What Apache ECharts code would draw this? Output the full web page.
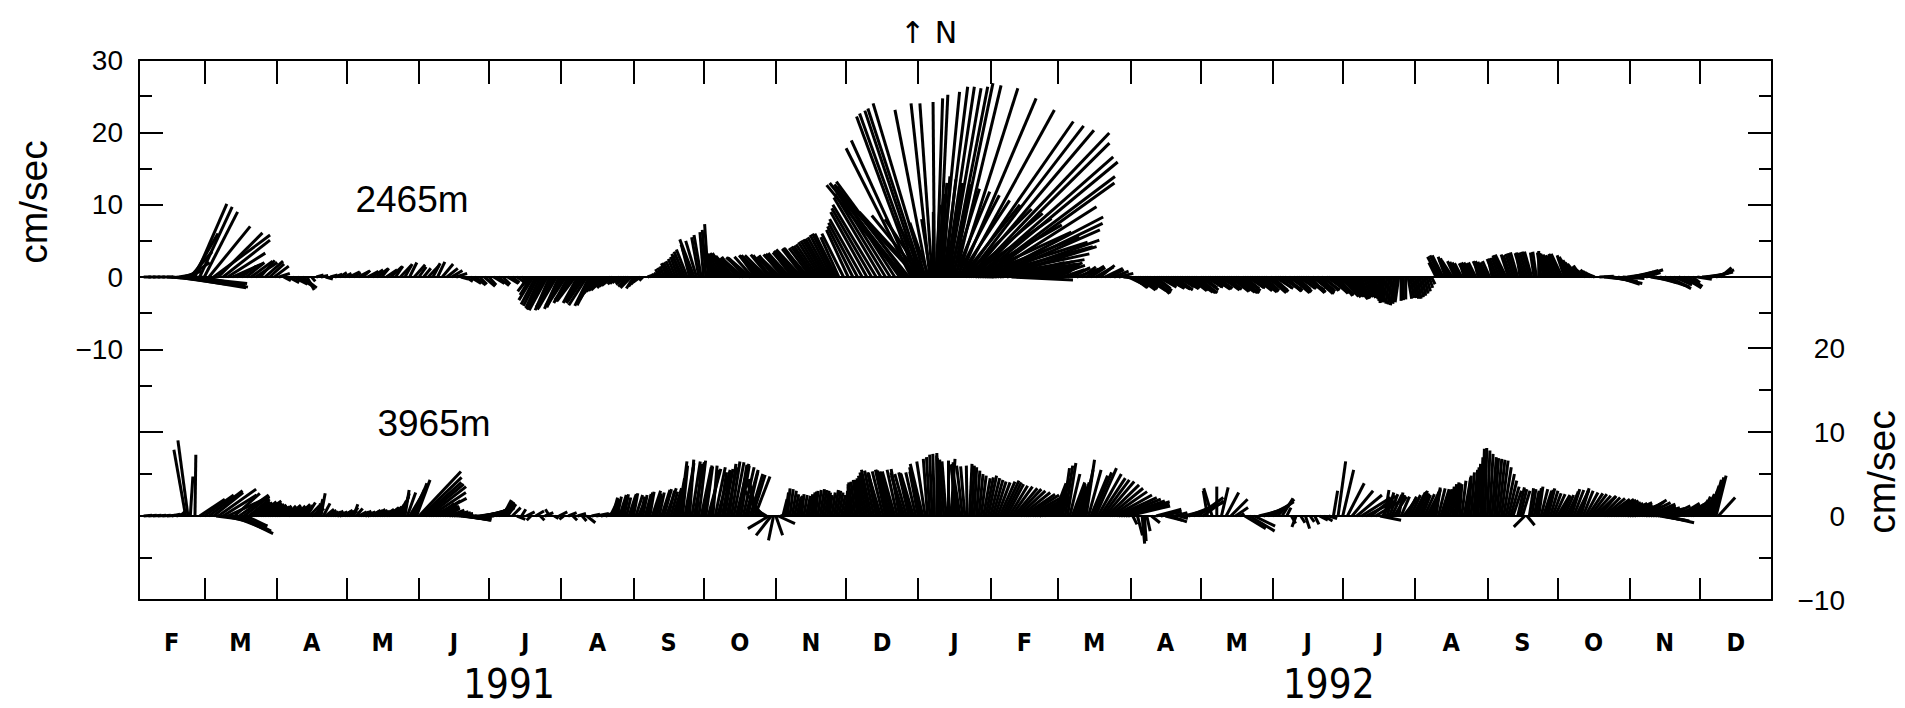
<!DOCTYPE html>
<html><head><meta charset="utf-8">
<script src="https://cdn.jsdelivr.net/npm/echarts@6/dist/echarts.min.js"></script>
<style>html,body{margin:0;padding:0;background:#fff}#c{width:1905px;height:708px}</style>
</head><body><div id="c"></div>
<script>
// Time in days since 1 Feb 1991; frame runs to 1 Jan 1993
const X_MIN = 0, X_MAX = 700;
const MONTH_START = [28,59,89,120,150,181,212,242,273,303,334,365,394,425,455,486,516,547,578,608,639,669];
const MONTH_MID = [14,43.5,74,104.5,135,165.5,196.5,227,257.5,288,318.5,349.5,379.5,409.5,440,470.5,501,531.5,562.5,593,623.5,654,684.5];
const MONTH_LETTERS = ['F','M','A','M','J','J','A','S','O','N','D','J','F','M','A','M','J','J','A','S','O','N','D'];
const YEAR_POS = [158.6, 510];
const YEAR_LABELS = ['1991','1992'];
// upper (2465 m) scale, left axis; lower (3965 m) scale, right axis
const UP_MIN = -44.654, UP_MAX = 30;
const LO_MIN = -10, LO_MAX = 54.286;
const LEFT_LABELS = [30,20,10,0,-10];
const RIGHT_LABELS = [20,10,0,-10];
const SERIES_NAMES = ['2465m','3965m'];

// sticks: [day, u (east, cm/s), v (north, cm/s)]
const S2465 = [
[2,1,0],[4,1,0],[6,1,0],[8,1,0],[10,1.5,0],[12,2,-0.1],[14,5,-0.5],[16,7,-1],[17,2,0.3],[18,9,-1.5],[19,2.5,0.8],[20,8.5,-0.9],
[21,3,2],[22,3,3.5],[23,3.5,6],[24,4.4,10.1],[25,7,-1.4],[26,4.5,9.7],[27,6,-1.2],[28,4.6,9.0],[30,5.7,7.0],[32,7.8,5.8],
[34,6.1,6.1],[36,6.5,5.1],[38,5.2,3.3],[40,4.3,1.9],[42,3.2,1.7],[44,2,1.5],[46,2.5,2],[48,3,2.2],[50,3,2],[52,2,2.3],
[54,2.5,2.2],[56,2,1.8],[58,2,1.5],[60,1.5,0.5],[62,1,-0.5],[64,1.5,-0.8],[66,2,-1],[68,2,-1.2],[70,2,-1.5],[72,1,-1.8],
[74,0.5,-0.6],[76,1,0.3],[78,1,0.2],[80,1,-0.3],[82,1,0.3],[84,1,0.4],[86,1,0.6],[88,1,0.5],[90,1.5,0.7],[92,1,0.6],
[94,1.5,0.8],[96,1,0.9],[98,1.5,0.8],[100,1.5,1.0],[102,1.5,1.1],[104,1,1.2],[106,1.5,1.0],[108,1.5,1.4],[110,1,1.5],
[112,1.5,1.6],[114,1,1.8],[116,1,2.0],[118,1.5,1.7],[120,1,1.4],[122,1,1.2],[124,1.5,1.6],[126,1,1.9],[128,1,2.1],
[130,1.5,1.8],[132,1.5,1.2],[134,1.5,0.9],[136,1.5,0.5],[138,1,-0.3],[140,1,-0.6],[142,1.5,-0.9],[144,1.5,-1.1],
[146,1,-1.0],[148,1.5,-1.3],[150,1,-1.1],[152,1.5,-0.9],[154,1.5,-1.2],[156,1,-1.0],[158,1.5,-0.9],[160,1,-0.8],
[162,1.5,-1.0],[164,1,-0.7],[166,-0.5,-1.2],[167,-1.5,-2.0],[168,-1.5,-2.5],[169,-2,-3.2],[170,-2,-3.8],[171,-2,-4.0],
[172,-2,-4.3],[173,-2,-4.4],[174,-2.5,-4.5],[175,-2.5,-4.6],[176,-2,-4.6],[177,-2,-4.5],[178,-2.5,-4.2],[179,-2.5,-4.3],
[180,-2,-4.4],[181,-2,-4.2],[182,-2.5,-4.0],[183,-2.5,-3.8],[184,-2,-3.6],[185,-2,-3.4],[186,-2.5,-3.2],[187,-2.5,-3.3],
[188,-2,-3.6],[189,-2,-3.5],[190,-2,-3.3],[191,-2.5,-3.6],[192,-2.5,-3.9],[193,-2,-4.0],[194,-2,-3.9],[195,-2,-3.2],
[196,-2,-2.5],[197,-2,-2.2],[198,-2,-2.0],[199,-2,-1.9],[200,-2,-1.8],[201,-1.5,-1.5],[202,-1.5,-1.3],[203,-1.5,-1.2],
[204,-1,-1.0],[205,-1,-0.9],[206,-1,-0.8],[207,-1,-0.7],[208,-1,-0.7],[209,-1.5,-1.0],[210,-1.5,-1.3],[211,-1.5,-1.5],
[212,-1,-1.6],[213,-1,-1.3],[214,-1,-1.0],[215,-1,-0.7],[216,-0.5,-0.5],
[218,0.5,0.2],[219,0.5,0.4],[220,0.5,0.6],[221,0.5,0.7],[222,0.5,0.9],[223,-0.5,1.1],[224,-0.5,1.3],[225,-0.5,1.5],
[226,-0.5,1.8],[227,-1,1.9],[228,-1,2.0],[229,-1,2.2],[230,-1,2.5],[231,-1,2.8],[232,-1,3.0],[233,-1.5,3.2],[234,-1.5,3.5],
[235,-1.5,3.8],[236,-1,4.0],[237,-1.5,4.5],[238,-2,5.2],[239,-1.5,5.0],[240,-1,5.5],[241,-1,5.8],[242,-0.5,6.2],
[243,-0.5,6.5],[244,-0.5,7.3],[245,-1,4.0],[246,-1,3.5],[247,-1.5,3.2],[248,-1.5,3.0],[249,-2,3.1],[250,-2,3.2],
[251,-2,3.3],[252,-2,3.3],[253,-2.5,3.1],[254,-2.5,3.0],[255,-2.5,2.9],[256,-2,2.8],[257,-2.5,2.6],[258,-3,2.5],
[259,-3,2.6],[260,-2.5,2.7],[261,-3,2.7],[262,-3,2.6],[263,-2.5,2.8],[264,-2,2.9],[265,-2.5,3.0],[266,-2.5,3.0],
[267,-3,2.9],[268,-3,2.8],[269,-3,3.0],[270,-2.5,3.1],[271,-2.5,3.0],[272,-2,3.0],[273,-2.5,2.8],[274,-3,2.7],
[275,-3,2.9],[276,-2.5,3.0],[277,-3,3.1],[278,-3,3.2],[279,-3,3.3],[280,-2.5,3.3],[281,-3,3.4],[282,-3,3.5],
[283,-3.5,3.6],[284,-3.5,3.8],[285,-3,3.9],[286,-3,4.0],[287,-3.5,4.0],[288,-3,4.0],[289,-3,4.2],[290,-3,4.3],
[291,-3,4.5],[292,-3,4.8],[293,-3,5.0],[294,-3,5.2],[295,-3,5.3],[296,-3,5.5],[297,-3,5.8],[298,-3,6.0],[299,-3,6.0],
[300,-2.5,5.5],[302,-3,6],[304,-3,6.5],[306,-3.5,7],[308,-4,7.5],[310,-4.5,8],[312,-5,9],[314,-5.5,9.5],
[316,-6,10],[318,-6.5,11],[320,-7,11.5],[322,-7.5,12],[324,-8,12.5],[326,-9,12.8],
[327,-10.4,12.7],[328,-10.3,13.0],[329,-9.7,13.2],[330,-9.6,12.0],[331,-9.0,17.8],[332,-8.6,18.9],[333,-8.2,22.2],
[333.5,-9.3,10],[334,-8.1,22.6],[334.5,-8.3,9],[335,-7.7,23.0],[335.5,-6.9,8.5],[336,-7.6,23.3],[336.5,-5.4,8],
[337,-7.2,24.0],[337.5,-4.0,7.5],[338,-4.5,23.1],[338.5,-2.6,7.5],[339,-2.6,24.0],[339.5,-1.3,8],[340,-1.7,24.0],
[340.5,0,9],[341,-0.2,24.2],[341.5,0.6,10],[342,0.8,24.7],[342.5,0.8,11.5],[343,1.2,25.2],[343.5,0.9,13],
[344,2.5,25.6],[344.5,1.0,13.9],[345,3.3,26.3],[345.5,1.5,13.5],[346,3.9,26.3],[346.5,2.1,13.0],[347,4.5,26.1],
[347.5,3.0,12.8],[348,5.1,26.3],[348.5,3.8,12.2],[349,5.5,26.8],[349.5,4.9,11.8],[350,6.3,26.5],[350.5,5.9,11.3],
[351,8.3,26.1],[351.5,7.0,10.6],[352,10.5,24.7],[352.5,8.1,10.0],[353,12.7,23.1],[353.5,9.4,9.4],[354,15.0,21.5],
[354.5,10.6,8.8],[355,16.1,20.9],[355.5,11.5,8.1],[356,17.2,20.3],[356.5,12.6,7.2],[357,19.0,19.9],[357.5,13.6,6.2],
[358,18.7,18.5],[358.5,14.4,5.5],[359,18.9,16.6],[359.5,15.2,4.8],[360,19.2,15.9],[360.5,15.6,4.2],[361,18.5,13.9],
[361.5,14.8,3.2],[362,18.1,13.0],[362.5,13.8,2.4],[363,15.3,9.7],[363.5,12.8,1.8],[364,15.9,8.3],[364.5,11.8,1.2],
[365,15.5,7.4],[365.5,11,0.8],[366,14.8,6.5],[367,14.4,5.1],[368,13.7,4.2],[369,10.1,2.1],
[370,9,3.0],[372,8,2.0],[374,8.5,-0.4],[376,7,1.5],[378,7,1.0],[380,6,0.6],[382,6,1.2],[384,5,1.5],[386,5,1.8],[388,4,1.2],
[390,5,1.6],[392,4,2.0],[394,3,1.5],[396,3,1.0],[398,3,1.2],[400,2.5,1.3],[402,3,1.1],[404,2,1.4],[406,2.5,1.5],[408,2,1.3],
[410,2.5,1.4],[412,2,1.6],[414,2.5,1.2],[416,2,1.0],[418,2,0.8],[420,2,0.5],[422,3,-0.3],[424,2.5,-1.2],
[425,2.5,-1.4],[426,2,-1.5],[427,3,-1.7],[428,2.5,-1.8],[429,2.5,-1.6],[430,2,-1.5],[431,3,-1.9],[432,3,-2.0],
[433,3,-2.2],[434,2.5,-2.3],[435,2.5,-1.9],[436,2,-1.6],[437,2.5,-1.4],[438,2,-1.2],[439,2.5,-1.3],[440,2.5,-1.5],
[441,3,-1.6],[442,2,-1.6],[443,2.5,-1.7],[444,2.5,-1.8],[445,3,-1.6],[446,2,-1.4],[447,2.5,-1.5],[448,2,-1.6],
[449,3,-1.8],[450,2.5,-1.9],[451,3,-2.1],[452,3,-2.2],[453,3,-2.2],[454,2.5,-2.2],[455,2.5,-1.8],[456,2,-1.5],
[457,2.5,-1.4],[458,2,-1.4],[459,3,-1.6],[460,2.5,-1.7],[461,2.5,-1.6],[462,2,-1.5],[463,3,-1.7],[464,2.5,-1.8],
[465,2.5,-1.7],[466,2,-1.6],[467,3,-1.9],[468,2.5,-2.0],[469,3,-2.1],[470,3,-2.2],[471,3,-2.2],[472,2.5,-2.2],
[473,2.5,-1.9],[474,2,-1.6],[475,2.5,-1.5],[476,2,-1.5],[477,3,-1.7],[478,2.5,-1.9],[479,3,-2.0],[480,2.5,-2.1],
[481,2.5,-1.9],[482,2,-1.7],[483,3,-2.0],[484,2.5,-2.2],[485,2.5,-2.0],[486,2,-1.8],[487,2.5,-1.6],[488,2,-1.5],
[489,3,-1.7],[490,2.5,-1.8],[491,2.5,-1.9],[492,2,-2.0],[493,3,-2.1],[494,2.5,-2.2],[495,2.5,-2.0],[496,2,-1.7],
[497,2.5,-1.6],[498,2,-1.6],[499,3,-1.8],[500,2.5,-2.0],[501,2.5,-2.1],[502,2,-2.2],[503,3,-2.3],[504,2.5,-2.3],
[505,2.5,-2.0],[506,2,-1.8],[507,2.5,-1.8],[508,2,-1.9],[509,3,-2.0],[510,2.5,-2.1],[511,2.5,-2.2],[512,2,-2.3],
[513,2.5,-2.5],[514,2,-2.6],[515,2.5,-2.7],[516,2.5,-2.8],[517,2.5,-2.7],[518,2,-2.5],[519,2,-2.7],[520,2,-2.9],
[521,2,-3.0],[522,1.5,-3.1],[523,1.5,-3.0],[524,1,-2.9],[525,1,-2.8],[526,1,-2.8],[527,1,-2.9],[528,1,-3.0],
[529,1,-3.2],[530,0.5,-3.3],[531,0.5,-3.5],[532,0,-3.6],[533,0,-3.5],[534,-0.5,-3.4],[535,-0.5,-3.5],[536,-0.5,-3.7],
[537,-0.5,-3.8],[538,-0.5,-3.9],[539,-0.5,-3.7],[540,-0.5,-3.5],[541,0,-3.3],[542,0,-3.2],[543,0,-3.1],[544,0.5,-3.0],
[545,0.5,-2.9],[546,0.5,-2.9],[547,0.5,-3.0],[548,0.5,-3.0],[549,0.5,-2.8],[550,0.5,-2.6],[551,0.5,-2.3],[552,0.5,-2.0],
[553,0.5,-1.5],[554,0.5,-1.0],[556,-1,2.0],[557,-1.5,2.8],[558,-1.5,3.0],[559,-1.5,3.0],[560,-1,2.8],[561,-1,2.6],
[562,-1.5,2.4],[563,-1.5,2.3],[564,-1,2.2],[565,-1,2.1],[566,-1,2.0],[567,-1,1.9],[568,-0.5,1.8],[569,-1,1.9],
[570,-1,2.0],[571,-1,2.0],[572,-1,1.9],[573,-1,2.0],[574,-0.5,2.1],[575,-1,2.2],[576,-1,2.2],[577,-1,2.1],[578,-1,2.0],
[579,-1,2.2],[580,-0.5,2.4],[581,-1,2.5],[582,-1,2.6],[583,-1,2.7],[584,-1,2.8],[585,-1.5,3.0],[586,-1.5,3.1],
[587,-1,3.1],[588,-1,3.0],[589,-1,3.2],[590,-1,3.3],[591,-1,3.4],[592,-0.5,3.4],[593,-1,3.3],[594,-1,3.3],[595,-1,3.4],
[596,-1,3.5],[597,-1,3.5],[598,-0.5,3.4],[599,-0.5,3.5],[600,0,3.6],[601,-0.5,3.4],[602,-0.5,3.3],[603,-1,3.3],
[604,-1,3.2],[605,-1,3.1],[606,-1,3.0],[607,-1,3.0],[608,-1,3.1],[609,-1.5,3.2],[610,-1.5,3.2],[611,-1,3.0],[612,-1,2.8],
[613,-1.5,2.6],[614,-1.5,2.5],[615,-1.5,2.3],[616,-1.5,2.0],[617,-1.5,1.8],[618,-1,1.6],[619,-1.5,1.4],[620,-1.5,1.2],
[621,-1,1.0],[622,-1,0.8],[623,-1,0.6],[624,-1,0.4],[626,2,0.1],[628,3,-0.3],[630,4,-0.6],[632,4,-0.9],[634,3,-1.0],
[636,3,-0.2],[638,3,0.4],[640,3,0.7],[642,3,0.9],[644,3,1.0],[646,2,0.6],[648,3,-0.5],[650,3,-0.8],[652,3.5,-1.2],
[654,3.5,-1.4],[656,3,-1.6],[658,2.5,-1.1],[660,3,-1.2],[662,2.5,-1.5],[664,2,-1.3],[666,1,-0.8],[668,2,-0.3],
[670,2.5,0.2],[672,3,0.5],[674,3,0.7],[676,2.5,1.0],[678,1.5,1.3]
];

const S3965 = [
[2,1,0.1],[4,1,0.1],[6,1,0.1],[8,1,0.1],[10,1,0.1],[12,1,0.1],[14,1,0.2],[16,1,0.3],[18,0.5,0.6],[20,-1.4,7.9],[21,-1.2,9.0],
[22,0.3,4.7],[24,0.1,7.3],[26,3,2.0],[28,3.5,2.5],[30,4,3.0],[32,3.5,2.8],[33,4,-0.5],[34,4.5,3.2],[36,4,2.5],[37,5,-1.2],
[38,5,2.3],[40,4.5,-1.8],[41,3,2.7],[42,4.3,-2.1],[43,3.5,2.5],[44,3.5,-1.8],[45,3,2.3],[46,2.5,-1.2],[47,2.5,2.0],[48,2,1.8],
[49,2,1.7],[50,2,1.6],[51,2.2,1.7],[52,2.5,1.8],[53,2.2,1.6],[54,2,1.5],[55,2,1.4],[56,2,1.3],[57,1.8,1.2],[58,1.5,1.0],
[59,1.5,1.1],[60,1.5,1.2],[61,1.2,1.1],[62,1,1.0],[63,1.2,1.2],[64,1.5,1.3],[65,1.2,1.2],[66,1,1.1],[67,1.2,1.2],[68,1.5,1.4],
[69,1.2,1.2],[70,1,1.0],[71,1,1.3],[72,1,1.6],[73,1.2,1.2],[74,1.5,0.9],[75,1,1.2],[76,0.5,1.5],[77,0.5,2.0],[78,0.5,2.7],
[79,0.8,1.5],[80,1,0.8],[81,1,0.7],[82,1,0.5],[83,1,0.5],[84,1,0.6],[85,1.2,0.5],[86,1.5,0.4],[87,1.2,0.6],[88,1,0.7],
[89,1,0.6],[90,1,0.6],[91,0.8,1.0],[92,0.5,1.4],[93,0.8,0.9],[94,1,0.5],[95,1,0.5],[96,1,0.6],[97,1.2,0.5],[98,1.5,0.5],
[99,1.2,0.6],[100,1,0.7],[101,1,0.7],[102,1,0.8],[103,1,0.7],[104,1,0.6],[105,1.2,0.8],[106,1.5,0.9],[107,1.2,1.0],
[108,1,1.0],[109,1,1.1],[110,1,1.3],[111,1,1.8],[112,1,2.3],[113,0.8,2.7],[114,0.5,3.1],[115,1,2.8],[116,1.5,2.5],
[117,1.5,3.2],[118,1.5,3.9],[119,1.6,4.3],[120,5,5.3],[121,4.8,4.6],[122,4.5,4.0],[123,4.5,3.8],[124,4.5,3.5],[125,4.2,2.8],
[126,4,2.1],[127,3,1.8],[128,2,1.5],[129,2,1.3],[130,2,1.2],[131,1.8,1.0],[132,1.5,0.9],[133,1.8,0.7],[134,2,0.5],
[135,2,0.4],[136,2,0.3],[137,2.2,0],[138,2.5,-0.3],[139,2.8,-0.4],[140,3,-0.5],[141,2.8,-0.5],[142,2.5,-0.4],[143,2.2,-0.3],
[144,2,-0.2],[145,2,0],[146,2,0.3],[147,2.2,0.4],[148,2.5,0.6],[149,2.8,0.8],[150,3,0.9],[151,2.8,1.0],[152,2.5,1.2],
[153,2.2,1.3],[154,2,1.5],[155,1.5,1.7],[156,1,1.9],[157,1,1.7],[158,1,1.4],[160,1,1.0],
[162,1,-0.4],[164,0.5,0.8],[166,1,0.5],[168,-0.5,-0.5],[170,1,0.6],[172,0.5,-0.5],[174,1,0.4],[176,-0.5,0.8],[178,0.5,-0.3],
[180,1,0.5],[182,-0.5,-0.4],[184,1,0.4],[186,0.5,-0.5],[188,1,0.3],[190,0.5,-0.6],[192,1,-0.8],[194,1,0.2],[196,1.5,0.3],
[198,2,0.4],[200,2,0.5],[202,1,2.0],[203,0.6,2.2],[204,0.5,2.0],[205,0.5,2.3],[206,0.8,2.5],[207,0.7,2.4],[208,0.5,2.6],
[209,0.5,2.2],[210,0.8,2.4],[211,0.6,2.6],[212,0.5,2.7],[213,0.8,2.5],[214,1,2.2],[215,0.5,2.3],[216,0.5,2.5],[217,0.7,2.6],
[218,0.6,2.8],[219,0.5,2.9],[220,1,3.0],[221,0.8,2.7],[222,0.5,2.4],[223,0.6,2.8],[224,1,3.1],[225,0.9,3.2],[226,1.2,3.3],
[227,0.7,3.0],[228,0.8,2.9],[229,1,3.3],[230,1,3.5],[231,0.8,4.5],[232,0.8,6.5],[233,0.6,6.0],[234,1,5.8],[235,0.8,6.3],
[236,0.5,6.7],[237,1,6.5],[238,1.2,6.4],[239,0.6,6.2],[240,0.8,6.6],[241,1.2,5.8],[242,1,6.0],[243,0.8,5.9],[244,1.5,5.6],
[245,1,5.5],[246,0.5,6.0],[247,1.2,5.8],[248,1.5,5.5],[249,0.8,5.2],[250,1,5.3],[251,1,5.6],[252,1.2,5.8],[253,0.8,6.2],
[254,1,6.5],[255,1.2,6.4],[256,1.5,6.2],[257,1,6.1],[258,1,6.0],[259,1.3,5.8],[260,1.5,5.5],[261,1.2,5.3],[262,1.5,5.0],
[263,1.5,4.9],[264,1.8,4.7],[265,-1,4.4],[266,-1.5,4.0],[267,-2,3.0],
[268,-1.5,1.5],[269,-1,0.6],[270,-2.5,-1.5],[271,-1.8,-2.3],[272,-0.6,-2.9],[273,0.8,-2.3],[274,2,-0.9],[275,1,0.2],
[276,0.5,2.0],[277,0.4,2.8],[278,0.3,3.3],[279,0.4,3.2],[280,0.5,3.0],[281,0.5,2.6],[282,0.5,2.3],[283,0.4,2.4],
[284,0.3,2.6],[285,0.4,2.5],[286,0.5,2.4],[287,0.5,2.6],[288,0.5,2.8],[289,0.4,2.9],[290,0.3,3.0],[291,0.4,3.1],
[292,0.5,3.2],[293,0.5,3.1],[294,0.5,3.0],[295,0.4,2.8],[296,0.3,2.5],[297,0.4,2.8],[298,0.5,3.1],[299,0.5,3.0],
[300,0.5,2.8],[301,0.5,2.5],[302,0.5,2.3],[303,0.2,3.0],[304,0,3.5],[305,-0.3,3.8],[306,-0.5,4.0],[307,-0.5,4.1],
[308,-0.5,4.3],[309,-0.6,4.3],[310,-0.8,4.2],[311,-0.9,4.5],[312,-1,4.8],[313,-1.1,5.2],[314,-1.2,5.5],[315,-1.1,5.4],
[316,-1,5.2],[317,-1.2,5.1],[318,-1.5,5.0],[319,-1.3,5.3],[320,-1.2,5.5],[321,-1.4,5.5],[322,-1.5,5.4],[323,-1.5,5.3],
[324,-1.5,5.3],[325,-1.2,5.5],[326,-1,5.6],[327,-1.3,5.2],[328,-1.5,4.8],[329,-1.4,5.0],[330,-1.2,5.2],[331,-1.3,5.1],
[332,-1.5,5.0],[333,-1.2,5.2],[334,-1,5.3],[335,-1.3,5.8],[336,-1.5,6.2],[337,-1,6.5],[338,-0.5,6.8],[339,-0.4,7.0],
[340,-0.3,7.3],[341,-0.2,7.4],[342,0,7.5],[343,-0.3,7.2],[344,-0.5,6.9],[345,-0.5,6.7],[346,-0.5,6.5],[347,0,6.6],
[348,0.5,6.8],[349,0,6.4],[350,-0.5,6.0],[351,-0.8,6.1],[352,-1,6.2],[353,-0.7,6.0],[354,-0.5,5.9],[355,-0.1,6.0],
[356,0.3,6.2],[357,0.3,6.0],[358,0.3,5.8],[359,0.4,5.4],[360,0.5,5.0],[361,0.6,4.8],[362,0.8,4.5],[363,0.9,4.6],
[364,1,4.8],[365,1.1,4.5],[366,1.2,4.3],[367,1.3,4.1],[368,1.5,4.0],[369,1.8,4.1],[370,2,4.2],[371,2,4.0],[372,2,3.8],
[373,2.2,3.6],[374,2.5,3.5],[375,2.8,3.3],[376,3,3.2],[377,3.2,3.0],[378,3.5,2.8],[379,3.8,2.6],[380,4,2.5],[381,4.2,2.3],
[382,4.5,2.2],[383,4.2,2.0],[384,4,1.9],[385,3.8,1.7],[386,3.5,1.5],[387,3.2,1.8],[388,3,2.0],[389,2.5,2.4],[390,2,2.8],
[391,1.8,3.3],[392,1.5,3.9],[393,1.2,3.5],[394,1,3.2],[395,1,4.5],[396,0.8,5.7],[397,0.9,6.0],[398,1.0,6.3],[399,1.2,5.0],
[400,1.5,4.0],[401,1.3,3.8],[402,1.2,3.5],[403,1.2,4.0],[404,1.2,4.5],[405,1.1,5.5],[406,1.0,6.7],[407,1.5,5.5],[408,2,4.8],
[409,2.2,5.2],[410,2.5,5.7],[411,2.8,5.0],[412,3,4.5],[413,3.2,4.3],[414,3.5,4.1],[415,3.8,3.7],[416,4,3.3],[417,4.2,2.9],
[418,4.5,2.5],[419,4.8,2.2],[420,5,2.0],[421,5.2,1.8],[422,5.5,1.7],[423,5.2,1.4],[424,5,1.2],[426,0.5,-1.0],
[428,0.6,-2.3],[430,0.3,-3.3],[431,0.2,-3.0],[432,0.4,-1.8],[434,1,-0.8],[436,3,0.8],[438,2.5,0.5],[440,2,-0.5],
[442,2,-0.7],[444,1.5,0.4],[446,1,-0.3],[448,2,0.5],[450,3,1.2],[452,3.5,1.6],[454,3,2.2],[456,2.5,1.8],[458,-0.5,3.0],
[460,-1,3.3],[462,0,3.5],[464,0.8,3.4],[466,1.5,2.8],[468,2,2.0],[470,1.5,1.0],[472,0.5,0.3],[474,2.5,-1.5],[476,3,-1.8],
[478,2.5,-1.2],[480,2,0.5],[482,2.5,0.9],[484,2.5,1.3],[486,2.5,1.7],[488,2,2.0],[490,1.3,2.1],[492,0.5,1.0],[494,0.5,-0.9],
[496,-0.5,-1.3],[498,0.5,-0.8],[500,0.5,-1.5],[502,0.5,-0.7],[504,0.5,-1.0],[506,1,-0.5],[508,1,-0.6],[510,1,-0.3],
[512,0.5,3.0],[514,0.9,6.5],[516,1.3,5.5],[518,2,3.9],[520,2.5,3.0],[522,3,2.5],[524,3.5,2.2],[526,3.5,1.8],[528,3,2.4],
[530,3,1.8],[532,2.5,-0.5],[533,1,1.5],[534,0.5,3.1],[535,0.8,2.8],[536,1,2.6],[537,1.2,2.5],[538,1.5,2.3],[539,1,2.5],
[540,0.5,2.8],[541,1,2.3],[542,1.5,1.9],[543,1.2,2.1],[544,1,2.3],[545,1.2,2.5],[546,1.5,2.8],[547,1.4,2.9],[548,1.2,3.0],
[549,1.1,2.7],[550,1,2.5],[551,1.2,2.6],[552,1.5,2.8],[553,1.2,2.9],[554,1,3.0],[555,0.8,3.2],[556,0.5,3.4],[557,0.8,3.3],
[558,1,3.2],[559,0.8,3.1],[560,0.5,3.0],[561,0.5,3.2],[562,0.5,3.5],[563,0.5,3.8],[564,0.5,4.0],[565,0.4,3.9],[566,0.3,3.8],
[567,0.5,4.2],[568,0.8,4.5],[569,0.5,4.6],[570,0.3,4.8],[571,0.4,5.2],[572,0.5,5.5],[573,0.4,5.8],[574,0.3,6.2],
[575,0.3,7.0],[576,0.2,8.0],[577,0.2,8.1],[578,0.3,7.8],[579,0.4,7.4],[580,0.5,7.0],[581,0.5,6.9],[582,0.6,6.8],
[583,0.7,6.7],[584,0.8,6.6],[585,0.9,5.8],[586,1.0,5.0],[587,1,4.2],[588,1,3.5],[589,1,3.0],[591,0.8,3.4],[592,0.8,3.2],
[593,0.9,3.0],[594,-1.3,-1.3],[595,0.9,-1.1],[596,0.5,3.3],[597,0.5,3.2],[598,0.6,3.0],[599,0.6,3.3],[600,0.5,3.5],
[601,0.8,3.2],[602,1,3.0],[603,0.9,3.1],[604,0.8,3.3],[605,0.9,3.0],[606,1,2.7],[607,1.2,2.6],[608,1.5,2.5],[609,1.2,2.4],
[610,1,2.4],[611,1.1,2.5],[612,1.3,2.6],[613,1.1,2.9],[614,1,3.2],[615,1.2,3.1],[616,1.5,3.0],[617,1.2,3.1],[618,1,3.3],
[619,1.2,3.0],[620,1.5,2.8],[621,1.8,2.7],[622,2,2.6],[623,2.2,2.4],[624,2.5,2.3],[625,2.2,2.3],[626,2,2.4],[627,2.2,2.2],
[628,2.5,2.1],[629,2.8,2.0],[630,3,2.0],[631,3,1.9],[632,3,1.8],[633,3,1.6],[634,3,1.5],[635,3.2,1.5],[636,3.5,1.6],
[637,3.2,1.4],[638,3,1.3],[639,3.2,1.2],[640,3.5,1.2],[641,3.2,1.3],[642,3,1.5],[643,3,1.7],[644,3,1.9],[645,3.2,1.6],
[646,3.5,1.4],[647,3.2,1.2],[648,3,1.1],[649,3.2,1.0],[650,3.5,0.9],[651,3.2,0.4],[652,3,-0.5],[653,3.2,-0.6],[654,3.5,-0.8],
[655,3,0.2],[656,2.5,1.2],[657,2.8,1.0],[658,3,0.9],[659,2.8,1.2],[660,2.5,1.5],[661,2.2,1.3],[662,2,1.1],[663,2.2,1.4],
[664,2.5,1.8],[665,2.2,1.6],[666,2,1.5],[667,1.5,1.5],[668,1,1.5],[669,1,1.9],[670,1,2.3],[671,1.2,2.6],[672,1.3,3.0],
[673,1.2,3.6],[674,1.2,4.3],[675,1.2,4.6],[676,1.2,4.8],[677,2,2.2]
];

const BLACK = '#000';
const SANS = '"Liberation Sans", Arial, Helvetica, sans-serif';
const NARROW = '"DejaVu Sans Condensed", "Liberation Sans Narrow", "Liberation Sans", sans-serif';
const minus = v => String(v).replace('-', '\u2212');
const lineSt = { color: BLACK, width: 2 };
const STICK_WIDTH = 3;

function yAx(pos, min, max, ticks, len, labels, extra) {
  return Object.assign({
    type: 'value', position: pos, min: min, max: max, splitLine: { show: false },
    axisLine: { show: false, onZero: false, lineStyle: lineSt },
    axisTick: { show: true, inside: true, length: len, customValues: ticks, lineStyle: lineSt },
    axisLabel: labels ? { show: true, customValues: labels, formatter: minus, color: BLACK, fontSize: 28, fontFamily: SANS } : { show: false }
  }, extra || {});
}

const chart = echarts.init(document.getElementById('c'), null, { renderer: 'svg', width: 1905, height: 708 });

function stickRender(params, api) {
  const d = api.value(0), u = api.value(1), v = api.value(2);
  const base = api.coord([d, 0]);
  const tip = api.coord([d, v]);
  const unit = base[1] - api.coord([d, 1])[1];
  return { type: 'line', shape: { x1: base[0], y1: base[1], x2: base[0] + u * unit, y2: tip[1] },
    style: { stroke: BLACK, lineWidth: STICK_WIDTH, lineCap: 'butt' } };
}

const yAxes = [
  yAx('left', UP_MIN, UP_MAX, [30,20,10,0,-10], 24, LEFT_LABELS, { axisLine: { show: true, onZero: false, lineStyle: lineSt } }),
  yAx('left', UP_MIN, UP_MAX, [25,15,5,-5,-15], 13, null),
  yAx('left', LO_MIN, LO_MAX, [10,0], 24, null),
  yAx('left', LO_MIN, LO_MAX, [5,-5], 13, null),
  yAx('right', LO_MIN, LO_MAX, [20,10,0,-10], 24, RIGHT_LABELS, { axisLine: { show: true, onZero: false, lineStyle: lineSt } }),
  yAx('right', LO_MIN, LO_MAX, [15,5,-5], 13, null),
  yAx('right', UP_MIN, UP_MAX, [20,10], 24, null),
  yAx('right', UP_MIN, UP_MAX, [25,15,5,-5], 13, null)
];
yAxes[0].axisLabel.margin = 16;
yAxes[4].axisLabel.margin = 73;
yAxes[4].axisLabel.align = 'right';

const option = {
  animation: false,
  backgroundColor: '#fff',
  title: { text: '\u2191 N', left: 895, top: 12, textStyle: { fontSize: 30, fontWeight: 'normal', color: BLACK, fontFamily: '"DejaVu Sans", sans-serif' } },
  grid: { left: 139, right: 133, top: 60, bottom: 108, containLabel: false, outerBoundsMode: 'none' },
  xAxis: [
    { type: 'value', position: 'bottom', min: X_MIN, max: X_MAX, splitLine: { show: false },
      axisLine: { show: true, onZero: false, lineStyle: lineSt },
      axisTick: { show: true, inside: true, length: 22, customValues: MONTH_START, lineStyle: lineSt },
      axisLabel: { show: true, customValues: MONTH_MID, margin: 30, color: BLACK, fontSize: 25, fontWeight: 'bold', fontFamily: NARROW,
        formatter: v => { const i = MONTH_MID.findIndex(m => Math.abs(m - v) < 0.01); return i >= 0 ? MONTH_LETTERS[i] : ''; } } },
    { type: 'value', position: 'top', min: X_MIN, max: X_MAX, splitLine: { show: false },
      axisLine: { show: true, onZero: false, lineStyle: lineSt },
      axisTick: { show: true, inside: true, length: 24, customValues: MONTH_START, lineStyle: lineSt },
      axisLabel: { show: false } },
    { type: 'value', position: 'bottom', min: X_MIN, max: X_MAX, splitLine: { show: false },
      axisLine: { show: false, onZero: false }, axisTick: { show: false },
      axisLabel: { show: true, customValues: YEAR_POS, margin: 64, color: BLACK, fontSize: 40, fontFamily: NARROW,
        formatter: v => { const i = YEAR_POS.findIndex(m => Math.abs(m - v) < 0.01); return i >= 0 ? YEAR_LABELS[i] : ''; } } }
  ],
  yAxis: yAxes,
  graphic: [
    { type: 'text', x: 33, y: 202, rotation: Math.PI / 2,
      style: { text: 'cm/sec', fontSize: 39, fontFamily: SANS, fill: BLACK, textAlign: 'center', textVerticalAlign: 'middle', align: 'center', verticalAlign: 'middle' } },
    { type: 'text', x: 1881, y: 472, rotation: Math.PI / 2,
      style: { text: 'cm/sec', fontSize: 39, fontFamily: SANS, fill: BLACK, textAlign: 'center', textVerticalAlign: 'middle', align: 'center', verticalAlign: 'middle' } },
    { type: 'text', x: 412, y: 199,
      style: { text: SERIES_NAMES[0], fontSize: 37, fontFamily: SANS, fill: BLACK, textAlign: 'center', textVerticalAlign: 'middle', align: 'center', verticalAlign: 'middle' } },
    { type: 'text', x: 434, y: 423,
      style: { text: SERIES_NAMES[1], fontSize: 37, fontFamily: SANS, fill: BLACK, textAlign: 'center', textVerticalAlign: 'middle', align: 'center', verticalAlign: 'middle' } }
  ],
  series: [
    { type: 'custom', name: SERIES_NAMES[0], xAxisIndex: 0, yAxisIndex: 0, data: S2465, dimensions: ['day','u','v'],
      encode: { x: 0, y: 2 }, renderItem: stickRender, silent: true },
    { type: 'custom', name: SERIES_NAMES[1], xAxisIndex: 0, yAxisIndex: 4, data: S3965, dimensions: ['day','u','v'],
      encode: { x: 0, y: 2 }, renderItem: stickRender, silent: true },
    { type: 'line', xAxisIndex: 0, yAxisIndex: 0, data: [[X_MIN,0],[X_MAX,0]], symbol: 'none', silent: true,
      lineStyle: { color: BLACK, width: 2 } },
    { type: 'line', xAxisIndex: 0, yAxisIndex: 4, data: [[X_MIN,0],[X_MAX,0]], symbol: 'none', silent: true,
      lineStyle: { color: BLACK, width: 2 } }
  ]
};
chart.setOption(option);
</script>
</body></html>
